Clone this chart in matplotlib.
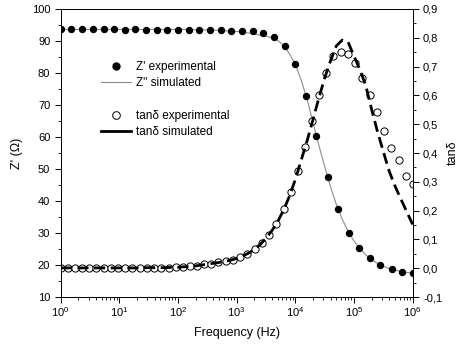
import numpy as np
import matplotlib
matplotlib.use("Agg")
import matplotlib.pyplot as plt
from matplotlib.lines import Line2D
from matplotlib.ticker import FuncFormatter, MultipleLocator, LogLocator, NullFormatter

plt.rcParams['font.family'] = ['Liberation Sans', 'DejaVu Sans']
plt.rcParams['mathtext.fontset'] = 'custom'
plt.rcParams['mathtext.rm'] = 'Liberation Sans'
plt.rcParams['mathtext.it'] = 'Liberation Sans:italic'

# Z' experimental (log10 of frequency in Hz)
logf_z = [0.00, 0.18, 0.36, 0.55, 0.73, 0.91, 1.09, 1.27, 1.45, 1.64, 1.82, 2.00,
          2.18, 2.36, 2.55, 2.73, 2.91, 3.09, 3.27, 3.45, 3.64, 3.82, 4.00, 4.18,
          4.36, 4.55, 4.73, 4.91, 5.09, 5.27, 5.45, 5.64, 5.82, 6.00]
z_exp = [93.6, 93.6, 93.6, 93.6, 93.6, 93.6, 93.5, 93.6, 93.5, 93.5, 93.5, 93.4,
         93.5, 93.4, 93.4, 93.3, 93.2, 93.1, 93.0, 92.4, 91.2, 88.3, 82.7, 72.9,
         60.4, 47.4, 37.4, 30.1, 25.4, 22.1, 20.1, 18.7, 17.9, 17.6]

# simulated curves, read on a 0.1-decade grid
logf_sim = [round(0.1 * i, 1) for i in range(61)]
z_sim = [93.6, 93.6, 93.6, 93.6, 93.6, 93.6, 93.6, 93.6, 93.6, 93.6,
         93.6, 93.6, 93.6, 93.6, 93.6, 93.6, 93.6, 93.6, 93.6, 93.6,
         93.6, 93.6, 93.5, 93.5, 93.5, 93.4, 93.4, 93.3, 93.2, 93.1,
         93.0, 92.8, 92.5, 92.2, 91.8, 91.5, 91.0, 90.2, 88.6, 86.0,
         82.7, 77.8, 71.8, 64.6, 57.5, 50.8, 44.4, 38.9, 34.3, 30.5,
         27.5, 25.1, 23.2, 21.7, 20.5, 19.6, 18.9, 18.4, 18.0, 17.7, 17.5]
tan_sim = [0.001, 0.001, 0.001, 0.001, 0.001, 0.001, 0.001, 0.001, 0.001, 0.001,
           0.001, 0.001, 0.001, 0.001, 0.001, 0.002, 0.002, 0.002, 0.002, 0.003,
           0.003, 0.005, 0.006, 0.008, 0.011, 0.014, 0.017, 0.020, 0.024, 0.028,
           0.034, 0.042, 0.052, 0.065, 0.082, 0.104, 0.130, 0.162, 0.202, 0.250,
           0.308, 0.375, 0.442, 0.515, 0.590, 0.660, 0.720, 0.772, 0.792, 0.785,
           0.737, 0.690, 0.635, 0.552, 0.475, 0.405, 0.337, 0.285, 0.240, 0.196, 0.152]

# tan delta experimental
logf_tan = [0.00, 0.12, 0.24, 0.37, 0.49, 0.61, 0.73, 0.86, 0.98, 1.10, 1.22, 1.35,
            1.47, 1.59, 1.71, 1.84, 1.96, 2.08, 2.20, 2.33, 2.45, 2.57, 2.69, 2.82,
            2.94, 3.06, 3.18, 3.31, 3.43, 3.55, 3.67, 3.80, 3.92, 4.04, 4.16, 4.29,
            4.41, 4.53, 4.65, 4.78, 4.90, 5.02, 5.14, 5.27, 5.39, 5.51, 5.63, 5.76,
            5.88, 6.00]
tan_exp = [0.001, 0.001, 0.001, 0.001, 0.001, 0.001, 0.001, 0.001, 0.001, 0.001,
           0.001, 0.001, 0.001, 0.001, 0.001, 0.002, 0.003, 0.004, 0.006, 0.009,
           0.013, 0.016, 0.020, 0.024, 0.030, 0.039, 0.050, 0.066, 0.088, 0.116,
           0.152, 0.205, 0.265, 0.336, 0.421, 0.512, 0.602, 0.678, 0.736, 0.751,
           0.744, 0.714, 0.661, 0.601, 0.541, 0.478, 0.418, 0.376, 0.320, 0.292]

f_z = 10 ** np.array(logf_z)
f_sim = 10 ** np.array(logf_sim)
f_tan = 10 ** np.array(logf_tan)

fig = plt.figure(figsize=(4.6, 3.5), dpi=100)
ax = fig.add_axes([0.132, 0.1514, 0.765, 0.8229])
ax2 = ax.twinx()

ax.plot(f_sim, z_sim, color='#8c8c8c', lw=0.8, zorder=2)
ax.plot(f_z, z_exp, 'o', color='black', ms=4.3, zorder=3)

ax2.plot(f_tan, tan_exp, 'o', mfc='white', mec='black', mew=0.7, ms=5.2, zorder=2)
ax2.plot(f_sim, tan_sim, color='black', lw=2.0, dashes=(4, 2), zorder=3)

ax.set_xscale('log')
ax.set_xlim(1, 1e6)
ax.set_ylim(10, 100)
ax2.set_ylim(-0.1, 0.9)

ax.xaxis.set_major_locator(LogLocator(base=10, numticks=10))
ax.xaxis.set_minor_locator(LogLocator(base=10, subs=np.arange(2, 10), numticks=20))
ax.xaxis.set_minor_formatter(NullFormatter())
ax.yaxis.set_major_locator(MultipleLocator(10))
ax.yaxis.set_minor_locator(MultipleLocator(5))
ax2.yaxis.set_major_locator(MultipleLocator(0.1))
ax2.yaxis.set_minor_locator(MultipleLocator(0.05))
ax2.yaxis.set_major_formatter(FuncFormatter(lambda v, p: f"{v:.1f}".replace('.', ',').replace('-0,0', '0,0')))

for a in (ax, ax2):
    a.tick_params(which='major', direction='out', length=4, width=0.7, labelsize=8)
    a.tick_params(which='minor', direction='out', length=2.5, width=0.6)
    for s in a.spines.values():
        s.set_linewidth(0.7)
ax.tick_params(axis='x', pad=2)

ax.set_xlabel('Frequency (Hz)', fontsize=9, labelpad=6)
ax.set_ylabel("Z' (\u03a9)", fontsize=9, labelpad=6)
ax2.set_ylabel('tan\u03b4', fontsize=9, labelpad=3)

handles = [
    Line2D([], [], ls='none', marker='o', color='black', ms=5),
    Line2D([], [], color='#8c8c8c', lw=0.8),
    Line2D([], [], ls='none'),
    Line2D([], [], ls='none', marker='o', mfc='white', mec='black', mew=0.7, ms=5.5),
    Line2D([], [], color='black', lw=2.0),
]
labels = ["Z' experimental", 'Z" simulated', ' ', 'tan\u03b4 experimental', 'tan\u03b4 simulated']
ax2.legend(handles, labels, loc='upper left', bbox_to_anchor=(0.1, 0.835), frameon=False,
           fontsize=8.5, handlelength=2.6, handletextpad=0.4, labelspacing=0.35,
           borderaxespad=0)

fig.savefig('out.png', dpi=100)
